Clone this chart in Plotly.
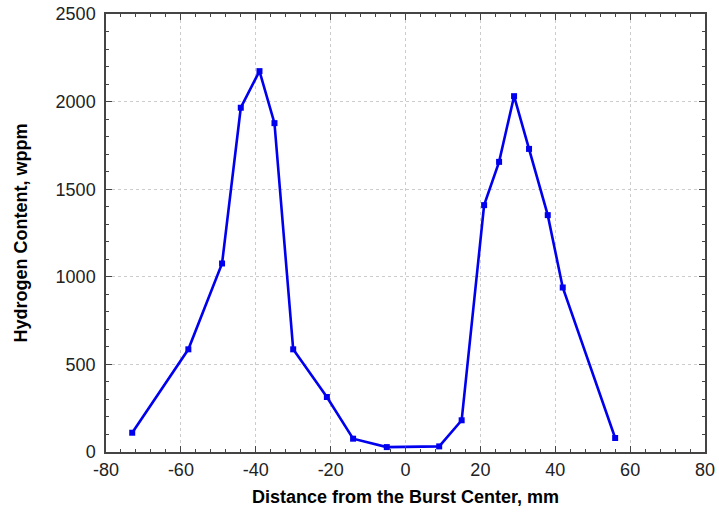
import plotly.graph_objects as go

distance_mm = [-73, -58, -49, -44, -39, -35, -30, -21, -14, -5, 9, 15, 21, 25, 29, 33, 38, 42, 56]
hydrogen_wppm = [110, 586, 1076, 1965, 2174, 1877, 586, 314, 76, 28, 32, 181, 1409, 1656, 2031, 1730, 1352, 939, 80]

x_ticks = [-80, -60, -40, -20, 0, 20, 40, 60, 80]
y_ticks = [0, 500, 1000, 1500, 2000, 2500]

fig = go.Figure()
fig.add_trace(go.Scatter(
    x=distance_mm, y=hydrogen_wppm, mode="lines+markers",
    line=dict(color="#0000ee", width=2.6),
    marker=dict(symbol="square", size=6, color="#0000ee"),
    showlegend=False, cliponaxis=False,
))

FONT = "Liberation Sans, Arial, sans-serif"
axis_common = dict(
    showline=True, linecolor="#444444", linewidth=1.5, mirror="ticks",
    ticks="inside", ticklen=6, tickcolor="#444444", tickwidth=1,
    showgrid=True, gridcolor="#cccccc", griddash="dot", gridwidth=1,
    zeroline=False, automargin=False, ticklabeloverflow="allow",
    tickfont=dict(family=FONT, size=18, color="#222222"),
)

fig.update_xaxes(
    range=[-80, 80], tickvals=x_ticks, ticktext=[str(v) for v in x_ticks],
    minor=dict(dtick=4, ticks="inside", ticklen=3, tickcolor="#444444", showgrid=False),
    title=dict(text="<b>Distance from the Burst Center, mm</b>", standoff=11,
               font=dict(family=FONT, size=18, color="black")),
    ticklabelstandoff=1,
    **axis_common,
)
fig.update_yaxes(
    range=[0, 2500], tickvals=y_ticks, ticktext=[str(v) for v in y_ticks],
    minor=dict(dtick=100, ticks="inside", ticklen=3, tickcolor="#444444", showgrid=False),
    title=dict(text="<b>Hydrogen Content, wppm</b>", standoff=23,
               font=dict(family=FONT, size=18, color="black")),
    ticklabelstandoff=5,
    **axis_common,
)

fig.update_layout(
    width=719, height=512,
    margin=dict(l=106, r=14, t=14, b=60),
    paper_bgcolor="white", plot_bgcolor="white",
)

fig.write_html("out.html", config={"displayModeBar": False},
               post_script="document.body.style.margin='0';")
